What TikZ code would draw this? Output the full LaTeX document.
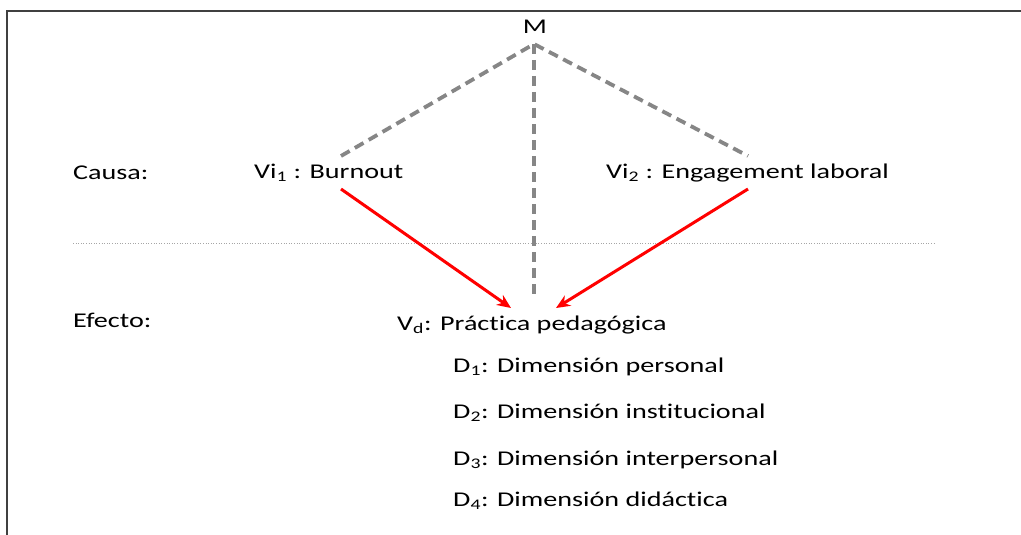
\documentclass[tikz,border=0pt]{standalone}
\usepackage{fontspec}
\setmainfont[Ligatures=CommonOff]{Carlito}
\usetikzlibrary{arrows.meta}
\newcommand{\wide}[1]{\scalebox{1.34}[1]{#1}}
\begin{document}
\begin{tikzpicture}[x=1pt,y=-1pt,
  lbl/.style={inner sep=0pt,font=\fontsize{21}{25}\selectfont},
  mline/.style={draw=gray!95,line width=3.8pt,dash pattern=on 10pt off 6pt},
  redarrow/.style={draw=red,line width=3pt,-{Stealth[length=14pt,width=12pt]}}]
\useasboundingbox (0,0) rectangle (1021,535);
\draw[line width=1.5pt,black!75] (7,535) -- (7,11) -- (1021,11);
\node[lbl] (M) at (535,27) {\wide{M}};
\coordinate (apex) at (534,44);
\coordinate (l1) at (341,156);
\coordinate (r1) at (748,156);
\coordinate (vb) at (534,300);
\node[lbl,anchor=west] (causa) at (73,173) {\wide{Causa:}};
\node[lbl,anchor=west] (vi1) at (254,173) {\wide{Vi\textsubscript{1} : Burnout}};
\node[lbl,anchor=west] (vi2) at (606,173) {\wide{Vi\textsubscript{2} : Engagement laboral}};
\node[lbl,anchor=west] (efecto) at (73,320) {\wide{Efecto:}};
\node[lbl,anchor=west] (vd) at (397,325) {\wide{V\textsubscript{d}: Práctica pedagógica}};
\node[lbl,anchor=west] (d1) at (453,367) {\wide{D\textsubscript{1}: Dimensión personal}};
\node[lbl,anchor=west] (d2) at (453,413) {\wide{D\textsubscript{2}: Dimensión institucional}};
\node[lbl,anchor=west] (d3) at (453,460) {\wide{D\textsubscript{3}: Dimensión interpersonal}};
\node[lbl,anchor=west] (d4) at (453,501) {\wide{D\textsubscript{4}: Dimensión didáctica}};
\coordinate (dl) at (73,243);
\coordinate (dr) at (935,243);
\draw[gray!70,line width=0.6pt,dotted] (dl) -- (dr);
\draw[mline] (l1) -- (apex) -- (r1);
\draw[mline] (apex) -- (vb);
\coordinate (a1s) at (341,189);
\coordinate (a1e) at (511,308);
\coordinate (a2s) at (748,189);
\coordinate (a2e) at (556,308);
\draw[redarrow] (a1s) -- (a1e);
\draw[redarrow] (a2s) -- (a2e);
\end{tikzpicture}
\end{document}
